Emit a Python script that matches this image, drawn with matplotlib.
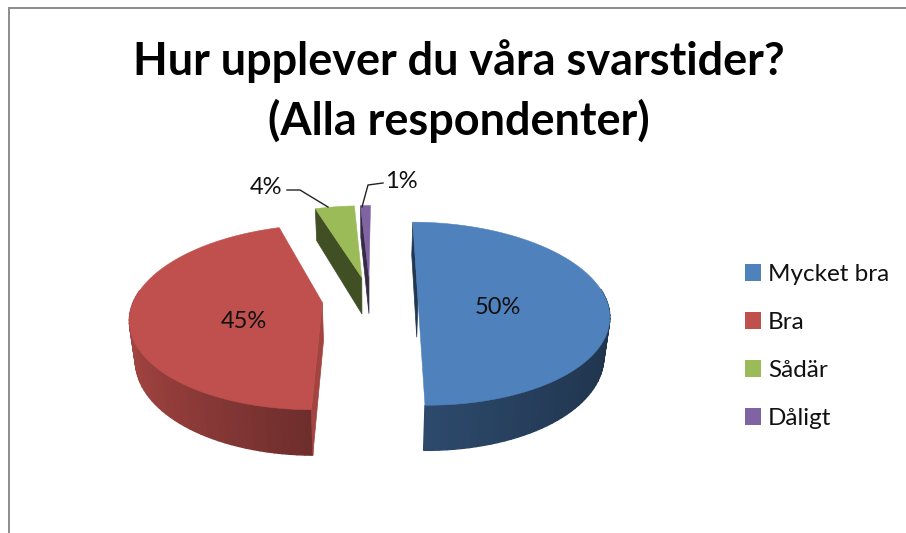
import numpy as np
import matplotlib
matplotlib.use("Agg")
import matplotlib.pyplot as plt
from matplotlib.patches import Patch
from matplotlib.colors import to_rgb

title = "Hur upplever du våra svarstider?\n(Alla respondenter)"
categories = ["Mycket bra", "Bra", "Sådär", "Dåligt"]
values = [50, 45, 4, 1]
colors = ["#4f81bd", "#c0504d", "#9bbb59", "#8064a2"]
label_pos = [(498, 308), (244, 322), (266, 187), (401, 182)]
leaders = {2: [(287, 190), (300, 190), (328, 207)],
           3: [(383, 183), (368, 185), (362, 207)]}

START = 89.5      # degrees, slices run clockwise
EXPLODE = 0.255
CX, CY = 370, 299
A, B, K = 188, 89.2, 0.158   # ellipse scales and perspective strength
DEPTH = 38
BOTTOM_SHRINK = 0.975
CUT_FACE_SHADE = [0.42, 0.85, 0.42, 0.42]

plt.rcParams["font.family"] = ["Lato", "DejaVu Sans"]
fig = plt.figure(figsize=(9.06, 5.33), dpi=100, facecolor="white")
ax = fig.add_axes([0, 0, 1, 1])
ax.set_xlim(0, 906)
ax.set_ylim(533, 0)
ax.axis("off")


def project(u, v, z=0.0):
    u, v = np.asarray(u, float), np.asarray(v, float)
    w = 1 + K * v
    s = 1 - (1 - BOTTOM_SHRINK) * z
    return CX + s * A * u / w, CY - B * v / w + z * DEPTH / w


def shade(base, f):
    return tuple(c * f for c in to_rgb(base))


fractions = np.array(values, float) / sum(values)
edges = START - 360 * np.concatenate([[0], np.cumsum(fractions)])

# back slices first so nearer ones paint over them
for i in [3, 2, 1, 0]:
    a0, a1 = edges[i], edges[i + 1]
    mid = np.radians((a0 + a1) / 2)
    ou, ov = EXPLODE * np.cos(mid), EXPLODE * np.sin(mid)
    th = np.radians(np.linspace(a0, a1, max(int(abs(a1 - a0) / 2), 4)))
    ru, rv = ou + np.cos(th), ov + np.sin(th)
    base_z = 1 + (3 - i)

    # outer wall with a gradient along the rim (front half only)
    for j in range(len(th) - 1):
        if np.sin(th[j]) > 0.1 and np.sin(th[j + 1]) > 0.1:
            continue
        xt, yt = project(ru[j:j + 2], rv[j:j + 2], 0)
        xb, yb = project(ru[j:j + 2], rv[j:j + 2], 1)
        f = np.interp(np.cos(th[j]), [-1, 0, 1], [0.85, 0.57, 0.40])
        col = shade(colors[i], f)
        ax.fill([xt[0], xt[1], xb[1], xb[0]], [yt[0], yt[1], yb[1], yb[0]],
                facecolor=col, edgecolor=col, lw=1.0, zorder=base_z)

    # the cut face that can be seen from the viewer
    xs_t, ys_t = project([ou, ru[0]], [ov, rv[0]], 0)
    xs_b, ys_b = project([ou, ru[0]], [ov, rv[0]], 1)
    col = shade(colors[i], CUT_FACE_SHADE[i])
    ax.fill([xs_t[0], xs_t[1], xs_b[1], xs_b[0]],
            [ys_t[0], ys_t[1], ys_b[1], ys_b[0]],
            facecolor=col, edgecolor=col, lw=0.5, zorder=base_z + 0.2)

    # top surface
    xs, ys = project(np.r_[ou, ru], np.r_[ov, rv], 0)
    ax.fill(xs, ys, color=colors[i], lw=0.4, zorder=base_z + 0.5)

# data labels
for i, (v, (x, y)) in enumerate(zip(values, label_pos)):
    ax.text(x, y, f"{v}%", ha="center", va="center", fontsize=17,
            color="#111111", zorder=10)
for pts in leaders.values():
    ax.plot(*zip(*pts), color="#222222", lw=1.0, zorder=9)

# frame
ax.plot([9, 9, 906], [533, 8, 8], color="#8c8c8c", lw=1.4, zorder=0,
        solid_joinstyle="miter")

ax.text(459, 91, title, ha="center", va="center", fontsize=32.4,
        fontweight="bold", color="black", linespacing=1.45)

handles = [Patch(facecolor=c, edgecolor="none") for c in colors]
ax.legend(handles, categories, loc="upper left",
          bbox_to_anchor=(733 / 906, 1 - 252 / 533), frameon=False,
          fontsize=17.5, labelcolor="#111111", handlelength=0.66,
          handleheight=0.66, handletextpad=0.29, labelspacing=1.11,
          borderpad=0.5, borderaxespad=0)

fig.savefig("out.png", dpi=100, facecolor="white")
